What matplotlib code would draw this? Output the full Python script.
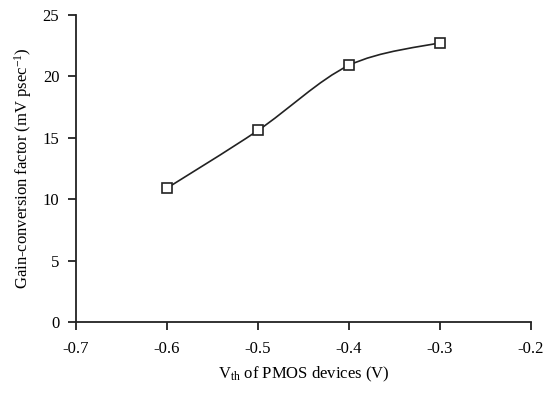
import numpy as np
import matplotlib
matplotlib.use('Agg')
import matplotlib.pyplot as plt
from matplotlib.path import Path
from matplotlib.patches import PathPatch

plt.rcParams['font.family'] = ['Liberation Serif', 'DejaVu Serif']
plt.rcParams['mathtext.fontset'] = 'custom'
plt.rcParams['mathtext.rm'] = 'Liberation Serif'
plt.rcParams['mathtext.it'] = 'Liberation Serif:italic'

vth = [-0.6, -0.5, -0.4, -0.3]
gain = [10.9, 15.6, 20.9, 22.75]
xticks = [-0.7, -0.6, -0.5, -0.4, -0.3, -0.2]
yticks = [0, 5, 10, 15, 20, 25]

fig = plt.figure(figsize=(5.53, 3.96), dpi=100)
ax = fig.add_axes([0.1374, 0.187, 0.8226, 0.775])
ax.set_xlim(-0.7, -0.2)
ax.set_ylim(0, 25)

# smoothed line through the points (Catmull-Rom -> cubic bezier), drawn in data coords
pts = np.column_stack([vth, gain])
verts = [pts[0]]
codes = [Path.MOVETO]
for i in range(len(pts) - 1):
    p0 = pts[i - 1] if i > 0 else pts[i]
    p1, p2 = pts[i], pts[i + 1]
    p3 = pts[i + 2] if i + 2 < len(pts) else pts[i + 1]
    c1 = p1 + (p2 - p0) / 6.0
    c2 = p2 - (p3 - p1) / 6.0
    verts += [c1, c2, p2]
    codes += [Path.CURVE4] * 3
ax.add_patch(PathPatch(Path(verts, codes), facecolor='none', edgecolor='#222222', lw=1.2, zorder=2))
ax.plot(vth, gain, ls='none', marker='s', ms=6.5, mfc='white', mec='#222222', mew=1.2, zorder=3)

for s in ['top', 'right']:
    ax.spines[s].set_visible(False)
for s in ['left', 'bottom']:
    ax.spines[s].set_linewidth(1.3)
    ax.spines[s].set_color('#222222')

ax.set_xticks(xticks)
ax.set_xticklabels([f'{t:.1f}' for t in xticks])
ax.set_yticks(yticks)
ax.tick_params(direction='out', length=6, width=1.3, color='#222222', labelsize=12, pad=6)
ax.tick_params(axis='x', pad=8)

ax.set_xlabel(r'V$_{\mathregular{th}}$ of PMOS devices (V)', fontsize=12, labelpad=5)
ax.set_ylabel(r'Gain-conversion factor (mV psec$^{-1}$)', fontsize=12, labelpad=6)

fig.savefig('out.png', dpi=100)
